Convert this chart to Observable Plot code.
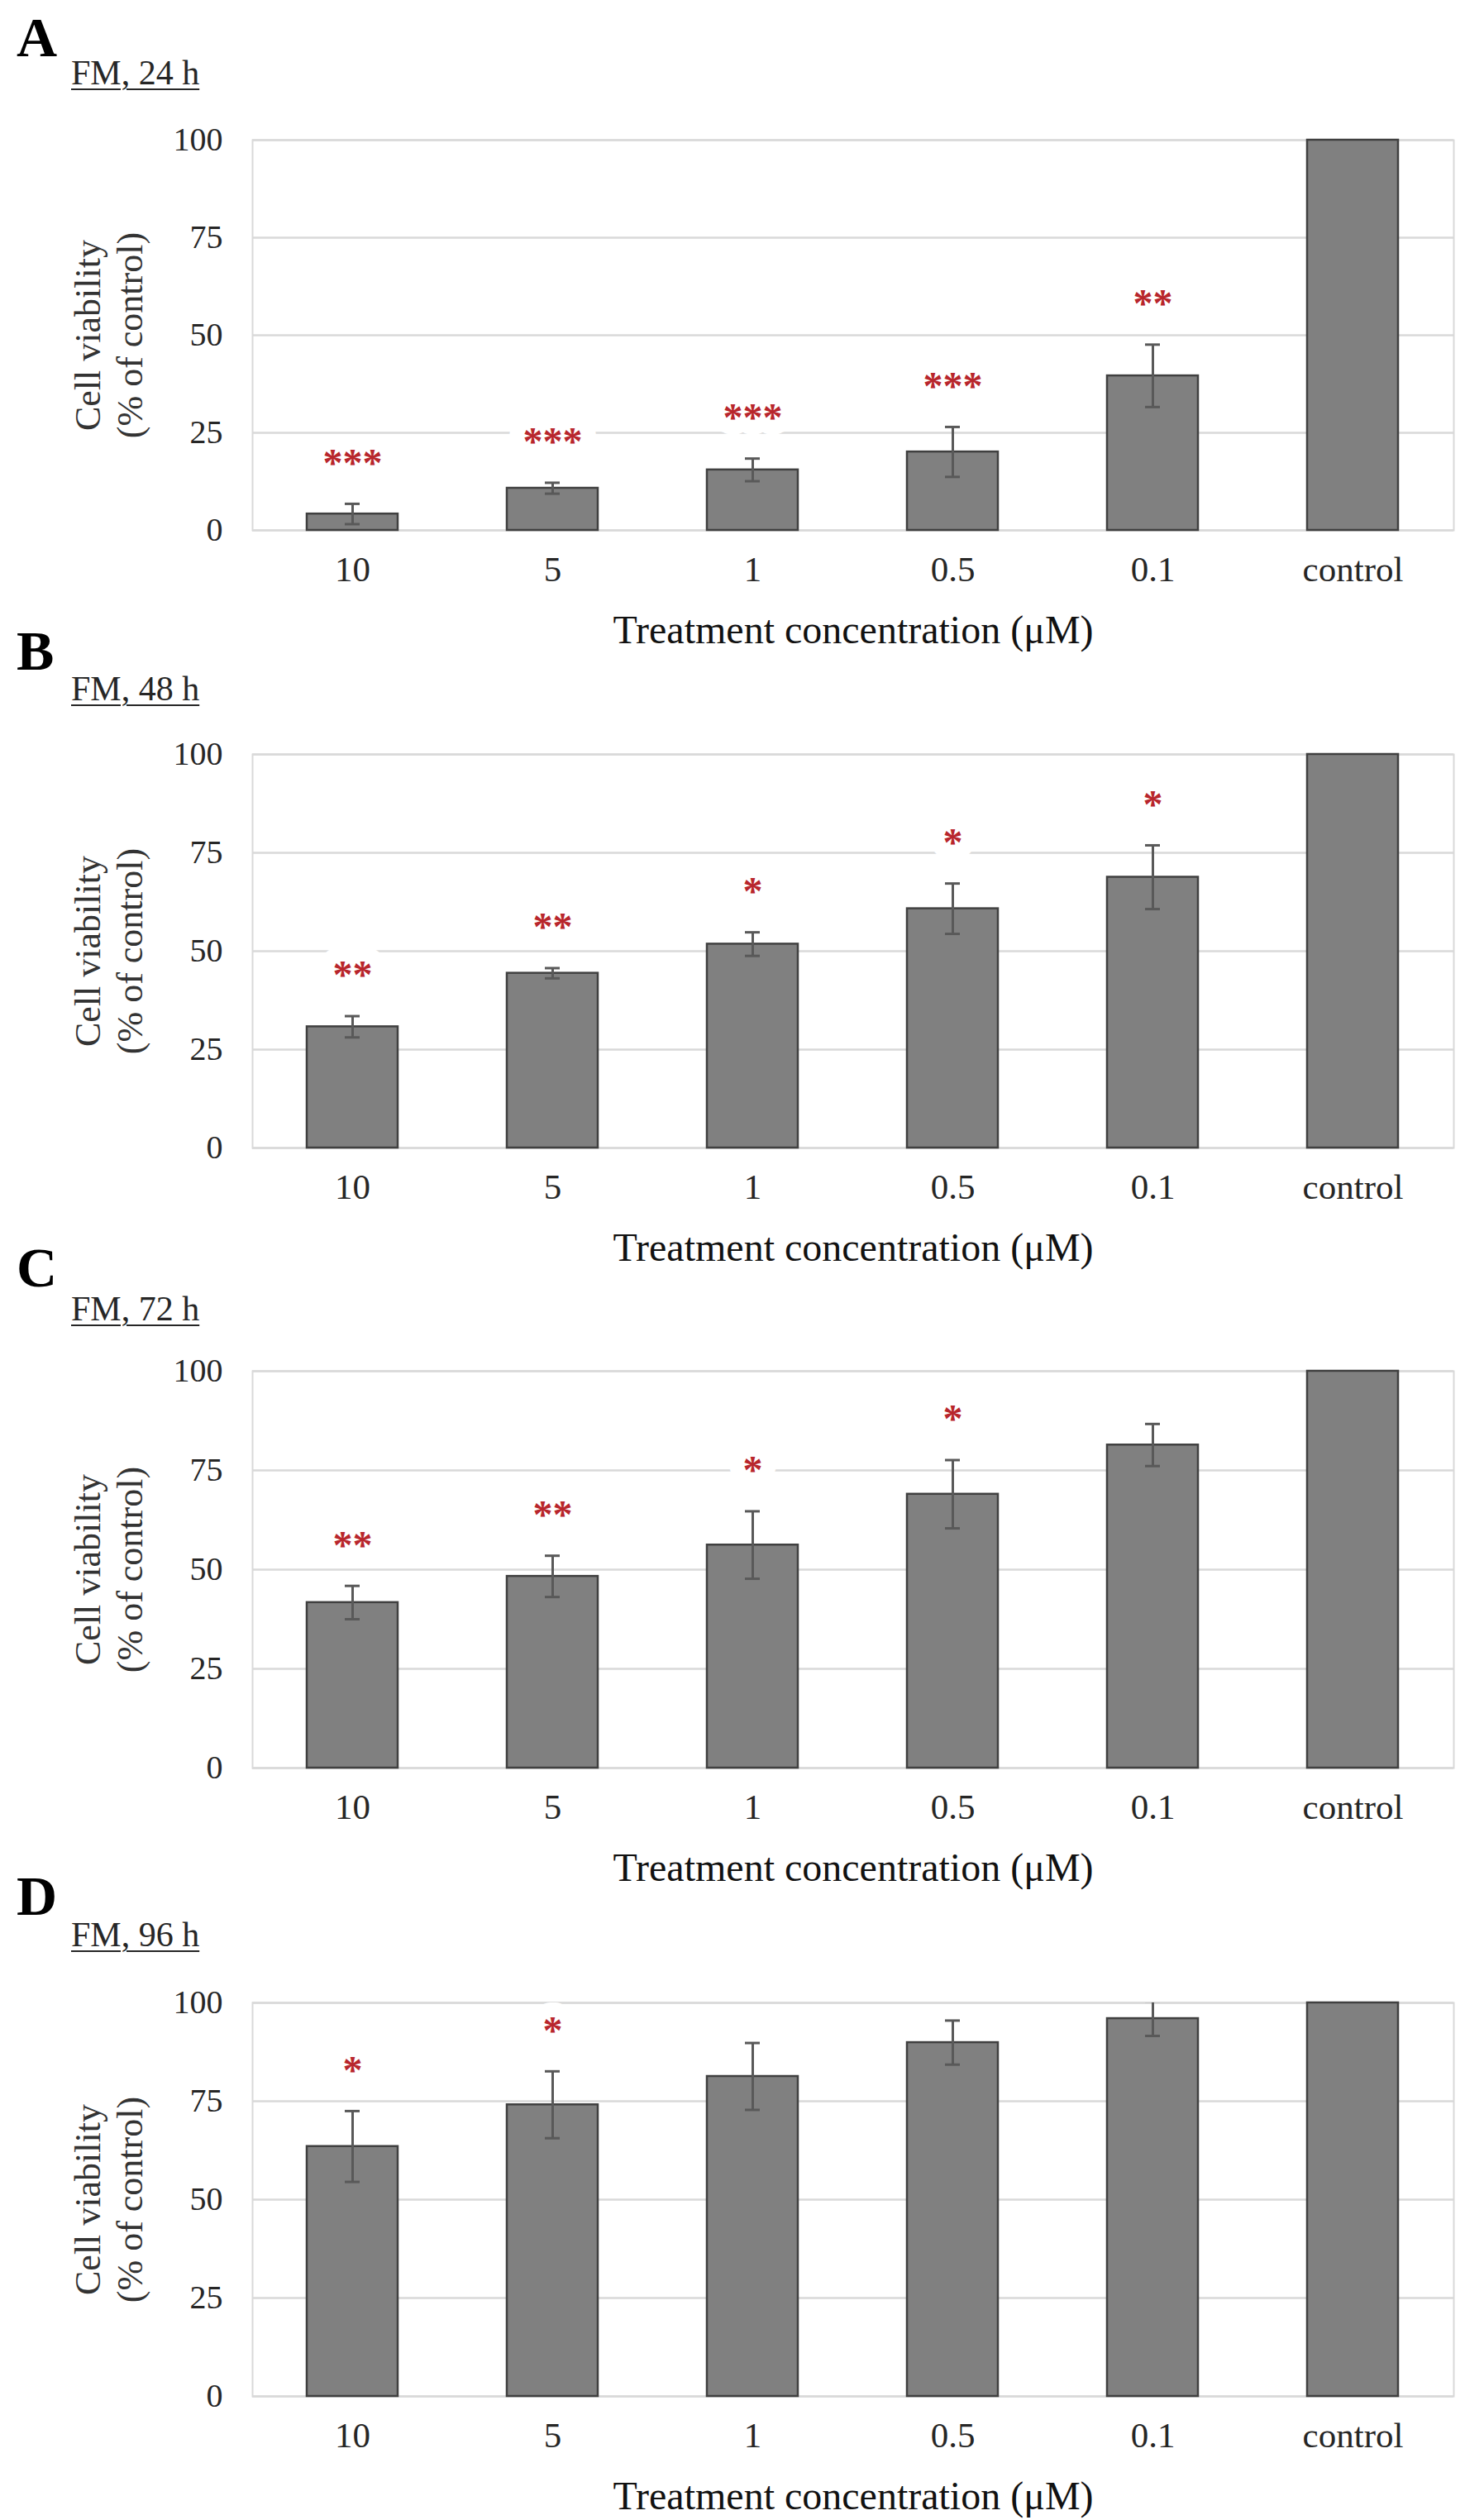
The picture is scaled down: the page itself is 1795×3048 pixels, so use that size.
<!DOCTYPE html>
<html>
<head>
<meta charset="utf-8">
<script src="https://cdn.jsdelivr.net/npm/d3@7"></script>
<script src="https://cdn.jsdelivr.net/npm/@observablehq/plot@0.6"></script>
<style>
  html, body { margin: 0; padding: 0; background: #fff; }
  #root { position: relative; width: 1795px; height: 3048px; background: #fff; overflow: hidden; }
  .letter { position: absolute; font-family: 'Liberation Serif', 'Times New Roman', Times, serif; font-weight: bold; font-size: 68px; line-height: 1; color: #000; white-space: nowrap; }
  .ptitle { position: absolute; font-family: 'Liberation Serif', 'Times New Roman', Times, serif; font-size: 42px; line-height: 1; color: #262626; white-space: nowrap; text-decoration: underline; text-decoration-thickness: 2px; text-underline-offset: 5px; }
  .panel { position: absolute; left: 0; }
</style>
</head>
<body>
<div id="root"></div>
<script>
// ---- data ----
const categories = ["10", "5", "1", "0.5", "0.1", "control"];

const meanA = [4.2, 10.8, 15.5, 20.1, 39.6, 100];
const sdA   = [2.6, 1.4, 2.9, 6.4, 8.0, 0];
const starsA = ["***", "***", "***", "***", "**", ""];

const meanB = [30.8, 44.4, 51.8, 60.8, 68.8, 100];
const sdB   = [2.7, 1.3, 3.0, 6.4, 8.1, 0];
const starsB = ["**", "**", "*", "*", "*", ""];

const meanC = [41.7, 48.3, 56.2, 69.0, 81.4, 100];
const sdC   = [4.2, 5.2, 8.5, 8.6, 5.3, 0];
const starsC = ["**", "**", "*", "*", "", ""];

const meanD = [63.5, 74.1, 81.3, 89.9, 96.0, 100];
const sdD   = [9.0, 8.5, 8.5, 5.6, 4.4, 0];
const starsD = ["*", "*", "", "", "", ""];

const panelLetters = ["A", "B", "C", "D"];
const panelTitles = ["FM, 24 h", "FM, 48 h", "FM, 72 h", "FM, 96 h"];
const yTicks = [0, 25, 50, 75, 100];
const xTitle = "Treatment concentration (\u03BCM)";
const yTitle = "Cell viability\n(% of control)";

// ---- layout (pixel positions on the page) ----
const layout = [
  {letterBase: 68,   titleBase: 102,  top: 169,  bottom: 641},
  {letterBase: 810,  titleBase: 847,  top: 912,  bottom: 1388},
  {letterBase: 1556, titleBase: 1597, top: 1658, bottom: 2138},
  {letterBase: 2316, titleBase: 2354, top: 2422, bottom: 2898}
];
const SERIF = "'Liberation Serif', 'Times New Roman', Times, serif";
const ML = 305, MR = 37, MT = 40, MB = 170;

const series = [
  [meanA, sdA, starsA],
  [meanB, sdB, starsB],
  [meanC, sdC, starsC],
  [meanD, sdD, starsD]
];

const root = document.getElementById("root");

function panel(means, sds, stars, L) {
  const data = categories.map((c, i) => ({cat: c, mean: means[i], sd: sds[i], star: stars[i]}));
  const withErr = data.filter(d => d.sd > 0);
  const ph = L.bottom - L.top;
  return Plot.plot({
    width: 1795,
    height: MT + ph + MB,
    marginTop: MT, marginBottom: MB, marginLeft: ML, marginRight: MR,
    style: {fontFamily: SERIF, fontSize: "40px", background: "transparent", overflow: "visible"},
    x: {type: "band", domain: categories, paddingInner: 0.545, paddingOuter: 0.2725},
    y: {domain: [0, 100]},
    marks: [
      Plot.frame({stroke: "#d9d9d9", strokeWidth: 2}),
      Plot.gridY(yTicks, {stroke: "#d9d9d9", strokeOpacity: 1, strokeWidth: 2.5}),
      Plot.axisY(yTicks, {tickSize: 0, tickPadding: 36, fontSize: 40, fill: "#262626", label: null}),
      Plot.axisX({tickSize: 0, tickPadding: 31, fontSize: 43, fill: "#262626", label: null}),
      Plot.text(data.filter(d => d.star), {
        x: "cat", y: d => d.mean + d.sd, text: "star", dy: -49,
        fill: "#b8262c", fontSize: 48, fontWeight: "bold",
        stroke: "white", strokeWidth: 36, strokeLinejoin: "round"
      }),
      Plot.barY(data, {x: "cat", y: "mean", fill: "#808080", stroke: "#404040", strokeWidth: 2.5}),
      Plot.ruleX(withErr, {x: "cat", y1: d => d.mean - d.sd, y2: d => d.mean + d.sd, stroke: "#595959", strokeWidth: 3, clip: true}),
      Plot.tickY(withErr, {x: "cat", y: d => d.mean + d.sd, stroke: "#595959", strokeWidth: 3, inset: 46, clip: true}),
      Plot.tickY(withErr, {x: "cat", y: d => d.mean - d.sd, stroke: "#595959", strokeWidth: 3, inset: 46, clip: true}),
      Plot.text([xTitle], {frameAnchor: "bottom", textAnchor: "middle", dy: 121, fontSize: 48, fill: "#111", lineAnchor: "middle"}),
      Plot.text([yTitle], {frameAnchor: "left", textAnchor: "middle", rotate: -90, dx: -(ML - 130), fontSize: 44, lineHeight: 1.16, fill: "#333", lineAnchor: "middle"})
    ]
  });
}

series.forEach(([m, s, st], i) => {
  const L = layout[i];
  const letter = document.createElement("div");
  letter.className = "letter";
  letter.textContent = panelLetters[i];
  letter.style.left = "20px";
  letter.style.top = (L.letterBase - 0.8375 * 68) + "px";
  root.appendChild(letter);

  const t = document.createElement("div");
  t.className = "ptitle";
  t.textContent = panelTitles[i];
  t.style.left = "86px";
  t.style.top = (L.titleBase - 0.8375 * 42) + "px";
  root.appendChild(t);

  const wrap = document.createElement("div");
  wrap.className = "panel";
  wrap.style.top = (L.top - MT) + "px";
  wrap.appendChild(panel(m, s, st, L));
  root.appendChild(wrap);
});
</script>
</body>
</html>
